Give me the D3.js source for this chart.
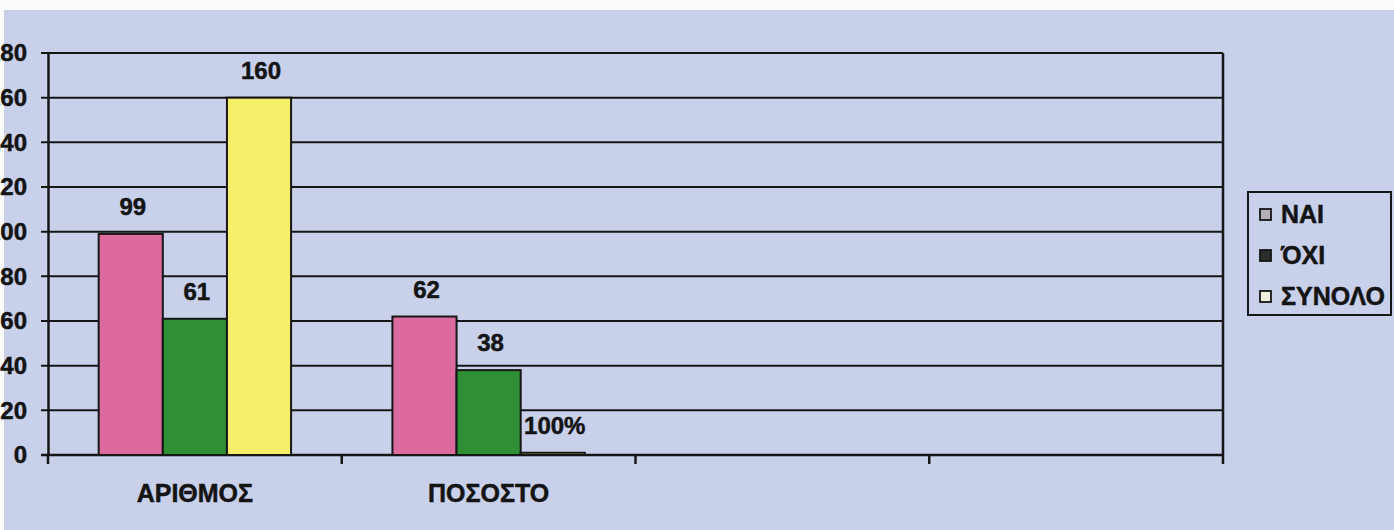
<!DOCTYPE html>
<html>
<head>
<meta charset="utf-8">
<script src="https://cdn.jsdelivr.net/npm/d3@7"></script>
<style>
  html, body { margin: 0; padding: 0; background: #ffffff; }
  svg { display: block; }
  text { font-family: "Liberation Sans", Arial, Helvetica, sans-serif; font-weight: bold; fill: #141414; stroke: #141414; stroke-width: 0.5px; }
</style>
</head>
<body>
<svg id="chart" width="1394" height="530"></svg>
<script>
// Categories along the x axis (the last two slots are empty)
const categories = ["ΑΡΙΘΜΟΣ", "ΠΟΣΟΣΤΟ", "", ""];
const seriesNames = ["ΝΑΙ", "ΌΧΙ", "ΣΥΝΟΛΟ"];

// Series values per category
const naiValues    = [99, 62, null, null];
const oxiValues    = [61, 38, null, null];
const synoloValues = [160, 1, null, null];   // 1 on the share row = 100%

// Label formats: plain counts, the share total is shown as a percentage
const countFormat = "d";
const shareTotalFormat = ".0%";

// Y axis ticks
const yTickValues = [0, 20, 40, 60, 80, 100, 120, 140, 160, 180];

const seriesColors = ["#dd6a9e", "#2f8f35", "#f6ef6a"];
const legendSwatchColors = ["#b7adb8", "#2b2f2b", "#eeeedc"];

const W = 1394, H = 530;
const margin = { left: 48, right: 1394 - 1223, top: 53, bottom: 530 - 455 };
const ink = "#161616";
const bg = "#c9d1ea";

const svg = d3.select("#chart");

// Background (white strip along the top and left edges)
svg.append("rect").attr("x", 0).attr("y", 0).attr("width", W).attr("height", H).attr("fill", "#fbfbfd");
svg.append("rect").attr("x", 4).attr("y", 10).attr("width", W - 4).attr("height", H - 10).attr("fill", bg);

const x0 = d3.scaleBand()
  .domain(d3.range(categories.length))
  .range([margin.left, W - margin.right])
  .paddingInner(0).paddingOuter(0);

const x1 = d3.scaleBand()
  .domain(seriesNames)
  .range([0, x0.bandwidth()])
  .paddingInner(0)
  .paddingOuter(0.79);

const y = d3.scaleLinear()
  .domain([0, 180])
  .range([H - margin.bottom, margin.top]);

// Horizontal gridlines with short outward ticks on the left
const grid = svg.append("g");
grid.selectAll("line")
  .data(yTickValues)
  .join("line")
  .attr("x1", margin.left - 7)
  .attr("x2", W - margin.right)
  .attr("y1", d => y(d))
  .attr("y2", d => y(d))
  .attr("stroke", ink)
  .attr("stroke-width", 2);

// Y axis
const yAxis = svg.append("g")
  .attr("transform", `translate(${margin.left},0)`)
  .call(d3.axisLeft(y).tickValues(yTickValues).tickSize(0).tickPadding(21).tickFormat(d3.format("d")));
yAxis.select(".domain").attr("stroke", ink).attr("stroke-width", 2.5);
yAxis.selectAll("text")
  .attr("font-size", 24)
  .attr("fill", "#111")
  .style("font-family", '"Liberation Sans", Arial, sans-serif')
  .style("font-weight", "bold");

// Right border of the plot area
svg.append("line")
  .attr("x1", W - margin.right).attr("x2", W - margin.right)
  .attr("y1", y(180)).attr("y2", y(0))
  .attr("stroke", ink).attr("stroke-width", 2.5);

// X axis with ticks between categories
const xAxisG = svg.append("g").attr("transform", `translate(0,${y(0)})`);
xAxisG.append("line")
  .attr("x1", margin.left - 7).attr("x2", W - margin.right)
  .attr("stroke", ink).attr("stroke-width", 2.5);
xAxisG.selectAll("line.tick")
  .data(d3.range(1, categories.length + 1))
  .join("line")
  .attr("class", "tick")
  .attr("x1", i => x0(0) + i * x0.step())
  .attr("x2", i => x0(0) + i * x0.step())
  .attr("y1", 0).attr("y2", 9)
  .attr("stroke", ink).attr("stroke-width", 2.5);
xAxisG.append("line")
  .attr("x1", margin.left).attr("x2", margin.left)
  .attr("y1", 0).attr("y2", 9)
  .attr("stroke", ink).attr("stroke-width", 2.5);
xAxisG.selectAll("text.cat")
  .data(categories.map((c, i) => ({ c, i })).filter(d => d.c))
  .join("text")
  .attr("class", "cat")
  .attr("x", d => x0(d.i) + x0.bandwidth() / 2)
  .attr("y", 47)
  .attr("text-anchor", "middle")
  .attr("font-size", 25)
  .text(d => d.c);

// Bars
const seriesValues = [naiValues, oxiValues, synoloValues];
const cells = [];
categories.forEach((c, ci) => {
  seriesNames.forEach((s, si) => {
    const v = seriesValues[si][ci];
    if (v !== null && v !== undefined) {
      const fmt = (s === "ΣΥΝΟΛΟ" && c === "ΠΟΣΟΣΤΟ") ? shareTotalFormat : countFormat;
      cells.push({ ci, si, s, v, label: d3.format(fmt)(v) });
    }
  });
});

svg.append("g").selectAll("rect")
  .data(cells)
  .join("rect")
  .attr("x", d => x0(d.ci) + x1(d.s))
  .attr("width", x1.bandwidth())
  .attr("y", d => y(d.v))
  .attr("height", d => y(0) - y(d.v))
  .attr("fill", d => seriesColors[d.si])
  .attr("stroke", ink)
  .attr("stroke-width", 2);

// Value labels above the bars
svg.append("g").selectAll("text")
  .data(cells)
  .join("text")
  .attr("x", d => x0(d.ci) + x1(d.s) + x1.bandwidth() / 2 + 2)
  .attr("y", d => y(d.v) - 19)
  .attr("text-anchor", "middle")
  .attr("font-size", 24)
  .text(d => d.label);

// Legend
const lg = svg.append("g");
lg.append("rect")
  .attr("x", 1248).attr("y", 192)
  .attr("width", 143).attr("height", 123)
  .attr("fill", bg)
  .attr("stroke", ink).attr("stroke-width", 2);
const item = lg.selectAll("g.item")
  .data(seriesNames)
  .join("g")
  .attr("class", "item")
  .attr("transform", (d, i) => `translate(1260,${215 + i * 41})`);
item.append("rect")
  .attr("x", 0).attr("y", -6)
  .attr("width", 11).attr("height", 11)
  .attr("fill", (d, i) => legendSwatchColors[i])
  .attr("stroke", ink).attr("stroke-width", 1.8);
item.append("text")
  .attr("x", 21).attr("y", 8)
  .attr("font-size", 25)
  .text(d => d);
</script>
</body>
</html>
